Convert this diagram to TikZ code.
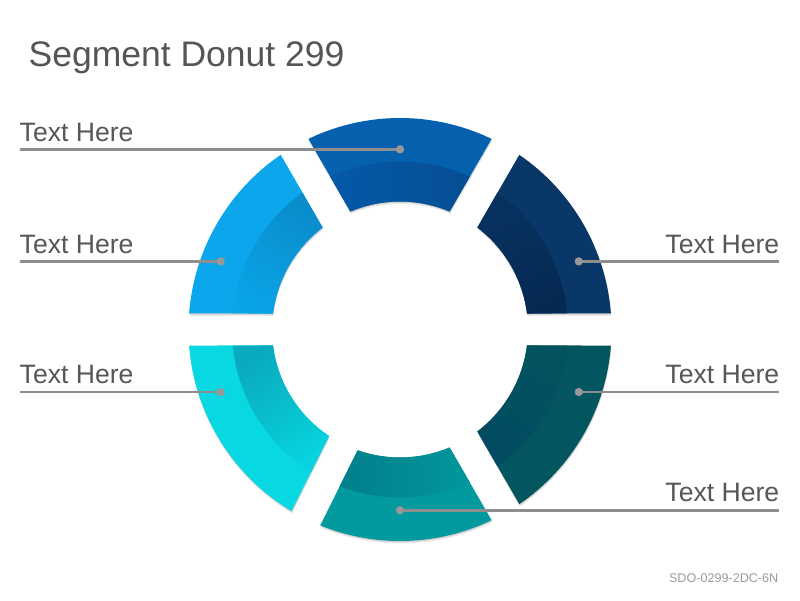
\documentclass[tikz,border=0pt]{standalone}
\usepackage{fontspec}
\setmainfont{Liberation Sans}
\definecolor{titlegray}{HTML}{555555}
\definecolor{labelgray}{HTML}{575757}
\definecolor{footgray}{HTML}{9A9A9A}
\definecolor{linegray}{HTML}{8E8E8E}
\definecolor{dotgray}{HTML}{999999}
\definecolor{urOut}{HTML}{093868}\definecolor{urLt}{HTML}{073260}\definecolor{urDk}{HTML}{052A52}
\definecolor{tpOut}{HTML}{0561AE}\definecolor{tpLt}{HTML}{0559A8}\definecolor{tpDk}{HTML}{064E94}
\definecolor{ulOut}{HTML}{0BA6EC}\definecolor{ulLt}{HTML}{0AA3E6}\definecolor{ulDk}{HTML}{0A8CCB}
\definecolor{llOut}{HTML}{08D8E1}\definecolor{llLt}{HTML}{08D3DE}\definecolor{llDk}{HTML}{09AABF}
\definecolor{btOut}{HTML}{029A9E}\definecolor{btLt}{HTML}{02979C}\definecolor{btDk}{HTML}{027F8C}
\definecolor{lrOut}{HTML}{03555F}\definecolor{lrLt}{HTML}{03535F}\definecolor{lrDk}{HTML}{024B62}
\tikzset{
  seglabel/.style={font=\fontsize{26.6}{31}\selectfont, text=labelgray, inner sep=0pt},
  dotnode/.style={circle, fill=dotgray, minimum size=8pt, inner sep=0pt},
  leader/.style={draw=linegray, line width=2.6pt},
}
% #1 start boundary angle, #2 end boundary angle, #3 colour prefix
\newcommand\donutseg[3]{%
  \pgfmathsetmacro\dsOa{#1+4.34}\pgfmathsetmacro\dsOb{#2-4.34}%
  \pgfmathsetmacro\dsIa{#1+7.18}\pgfmathsetmacro\dsIb{#2-7.18}%
  \pgfmathsetmacro\dsBa{#1+5.47}\pgfmathsetmacro\dsBb{#2-5.47}%
  \pgfmathsetmacro\dsMid{(#1+#2)/2}%
  \fill[black, opacity=0.08, shift={(0.5pt,-2.4pt)}] (\dsOa:211.5pt) arc[start angle=\dsOa, end angle=\dsOb, radius=211.5pt] -- (\dsIb:128pt) arc[start angle=\dsIb, end angle=\dsIa, radius=128pt] -- cycle;
  \fill[black, opacity=0.12, shift={(0.3pt,-1.2pt)}] (\dsOa:211.5pt) arc[start angle=\dsOa, end angle=\dsOb, radius=211.5pt] -- (\dsIb:128pt) arc[start angle=\dsIb, end angle=\dsIa, radius=128pt] -- cycle;
  \fill[#3Out] (\dsOa:211.5pt) arc[start angle=\dsOa, end angle=\dsOb, radius=211.5pt] -- (\dsIb:128pt) arc[start angle=\dsIb, end angle=\dsIa, radius=128pt] -- cycle;
  \shade[top color=#3Lt, bottom color=#3Dk, shading angle=\dsMid] (\dsBa:168pt) arc[start angle=\dsBa, end angle=\dsBb, radius=168pt] -- (\dsIb:128pt) arc[start angle=\dsIb, end angle=\dsIa, radius=128pt] -- cycle;
}
\begin{document}
\begin{tikzpicture}[x=1pt, y=1pt]
  \fill[white] (0,0) rectangle (800,600);
  \useasboundingbox (0,0) rectangle (800,600);

  % donut segments
  \begin{scope}[shift={(400pt,270.5pt)}]
    \donutseg{0}{60}{ur}
    \donutseg{60}{120}{tp}
    \donutseg{120}{180}{ul}
    \donutseg{180}{243.5}{ll}
    \donutseg{243.5}{300}{bt}
    \donutseg{300}{360}{lr}
  \end{scope}

  % title and footer
  \node[anchor=base west, inner sep=0pt, text=titlegray, font=\fontsize{35.5}{40}\selectfont] (title) at (28.5,533.3) {Segment Donut 299};
  \node[anchor=base east, inner sep=0pt, text=footgray, font=\fontsize{12.6}{15}\selectfont] (footer) at (778.5,18) {SDO-0299-2DC-6N};

  % dots
  \node[dotnode] (d1) at (400,450.7) {};
  \node[dotnode] (d2) at (220.7,338.6) {};
  \node[dotnode] (d3) at (220.7,207.8) {};
  \node[dotnode] (d4) at (578.8,338.6) {};
  \node[dotnode] (d5) at (578.8,208.0) {};
  \node[dotnode] (d6) at (400,89.7) {};

  % leader line ends
  \coordinate (e1) at (20,450.7);
  \coordinate (e2) at (20,338.6);
  \coordinate (e3) at (20,207.8);
  \coordinate (e4) at (779,338.6);
  \coordinate (e5) at (779,208.0);
  \coordinate (e6) at (779,89.7);

  \draw[leader] (e1) -- (d1.center);
  \draw[leader] (e2) -- (d2.center);
  \draw[leader] (e3) -- (d3.center);
  \draw[leader] (e4) -- (d4.center);
  \draw[leader] (e5) -- (d5.center);
  \draw[leader] (e6) -- (d6.center);
  \node[dotnode] at (d1) {};
  \node[dotnode] at (d2) {};
  \node[dotnode] at (d3) {};
  \node[dotnode] at (d4) {};
  \node[dotnode] at (d5) {};
  \node[dotnode] at (d6) {};

  % labels
  \node[seglabel, anchor=base west] (t1) at (19.5,458.8) {Text Here};
  \node[seglabel, anchor=base west] (t2) at (19.5,346.8) {Text Here};
  \node[seglabel, anchor=base west] (t3) at (19.5,216.0) {Text Here};
  \node[seglabel, anchor=base east] (t4) at (779.5,346.8) {Text Here};
  \node[seglabel, anchor=base east] (t5) at (779.5,216.0) {Text Here};
  \node[seglabel, anchor=base east] (t6) at (779.5,98.2) {Text Here};
\end{tikzpicture}
\end{document}
